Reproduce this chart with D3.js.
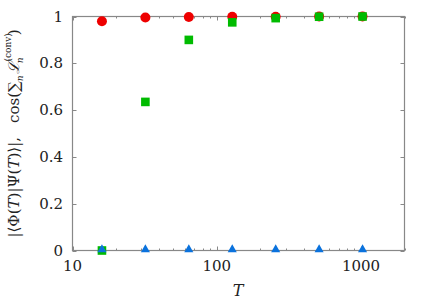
<!DOCTYPE html>
<html>
<head>
<meta charset="utf-8">
<script src="https://cdn.jsdelivr.net/npm/d3@7"></script>
<style>
  body { margin: 0; background: #fff; }
</style>
</head>
<body>
<div id="chart"></div>
<script>
const T = [16, 32, 64, 128, 256, 512, 1024];
const overlap = [0.980, 0.996, 0.998, 0.999, 0.999, 1.0, 1.0];
const cosConv = [0.0, 0.635, 0.90, 0.975, 0.993, 0.999, 1.0];
const zeroSeries = [0, 0, 0, 0, 0, 0, 0];
const xTicks = [10, 100, 1000];
const yTicks = [0, 0.2, 0.4, 0.6, 0.8, 1];

const w = 436, h = 305;
const m = { left: 72.5, right: 31.5, top: 16.5, bottom: 54.5 };
const serif = "'DejaVu Serif', 'Liberation Serif', serif";

const svg = d3.select("#chart")
  .append("svg")
  .attr("width", w)
  .attr("height", h)

const x = d3.scaleLog().domain([10, 2000]).range([m.left, w - m.right]);
const y = d3.scaleLinear().domain([0, 1]).range([h - m.bottom, m.top]);

const frame = "#888";

// minor ticks 20..90, 200..900, 2000
const minor = [];
for (let d = 10; d < 2000; d *= 10)
  for (let k = 2; k <= 9; k++) if (d * k <= 2000) minor.push(d * k);

const g = svg.append("g").attr("stroke", frame).attr("stroke-width", 1);
// inward ticks, bottom & top
const px = v => Math.round(x(v)) + 0.5;
minor.forEach(v => {
  g.append("line").attr("x1", px(v)).attr("x2", px(v)).attr("y1", y(0)).attr("y2", y(0) - 2);
  g.append("line").attr("x1", px(v)).attr("x2", px(v)).attr("y1", y(1)).attr("y2", y(1) + 2);
});
xTicks.forEach(v => {
  g.append("line").attr("x1", px(v)).attr("x2", px(v)).attr("y1", y(0)).attr("y2", y(0) - 4);
  g.append("line").attr("x1", px(v)).attr("x2", px(v)).attr("y1", y(1)).attr("y2", y(1) + 4);
});
const py = v => Math.round(y(v)) + 0.5;
yTicks.forEach(v => {
  g.append("line").attr("x1", x.range()[0]).attr("x2", x.range()[0] + 4).attr("y1", py(v)).attr("y2", py(v));
  g.append("line").attr("x1", x.range()[1]).attr("x2", x.range()[1] - 4).attr("y1", py(v)).attr("y2", py(v));
});

svg.append("rect")
  .attr("x", m.left).attr("y", m.top)
  .attr("width", w - m.left - m.right).attr("height", h - m.top - m.bottom)
  .attr("fill", "none").attr("stroke", frame).attr("stroke-width", 1.2);

// tick labels
svg.selectAll(".xl").data(xTicks).enter().append("text")
  .attr("x", d => x(d)).attr("y", 271)
  .attr("text-anchor", "middle")
  .attr("font-family", serif).attr("font-size", 15).attr("fill", "#222")
  .text(d => d);
svg.selectAll(".yl").data(yTicks).enter().append("text")
  .attr("x", 63).attr("y", d => y(d) + 5)
  .attr("text-anchor", "end")
  .attr("font-family", serif).attr("font-size", 15).attr("fill", "#222")
  .text(d => d);

// axis titles
svg.append("text")
  .attr("x", 238).attr("y", 296)
  .attr("text-anchor", "middle")
  .attr("font-family", serif).attr("font-size", 16).attr("font-style", "italic").attr("fill", "#222")
  .text("T");

const yl = svg.append("text")
  .attr("transform", `translate(19,${(m.top + h - m.bottom) / 2})rotate(-90)`)
  .attr("text-anchor", "middle")
  .attr("font-family", serif).attr("font-size", 15).attr("fill", "#222");
yl.append("tspan").text("|⟨Φ(");
yl.append("tspan").attr("font-style", "italic").text("T");
yl.append("tspan").text(")|Ψ(");
yl.append("tspan").attr("font-style", "italic").text("T");
yl.append("tspan").text(")⟩|,");
yl.append("tspan").attr("dx", 14).text("cos(∑");
yl.append("tspan").attr("font-style", "italic").attr("font-size", 9).attr("dy", 4).text("n");
yl.append("tspan").attr("font-style", "italic").attr("dy", -4).attr("dx", 2).text("ℒ");
yl.append("tspan").attr("font-size", 9).attr("dy", -8).text("(conv)");
yl.append("tspan").attr("font-style", "italic").attr("font-size", 9).attr("dx", -30).attr("dy", 12).text("n");
yl.append("tspan").attr("dx", 22).attr("dy", -4).text(")");

// markers
svg.append("g").selectAll("circle")
  .data(T.map((t, i) => [t, overlap[i]])).enter().append("circle")
  .attr("cx", d => x(d[0])).attr("cy", d => y(d[1]))
  .attr("r", 5).attr("fill", "#ee0000");

svg.append("g").selectAll("rect")
  .data(T.map((t, i) => [t, cosConv[i]])).enter().append("rect")
  .attr("x", d => x(d[0]) - 4.3).attr("y", d => y(d[1]) - 4.3)
  .attr("width", 8.6).attr("height", 8.6).attr("fill", "#00bb00");

const tri = d3.symbol().type(d3.symbolTriangle).size(36);
svg.append("g").selectAll("path")
  .data(T.map((t, i) => [t, zeroSeries[i]])).enter().append("path")
  .attr("transform", d => `translate(${x(d[0])},${y(d[1]) - 1})`)
  .attr("d", tri).attr("fill", "#0a72dd");
</script>
</body>
</html>
